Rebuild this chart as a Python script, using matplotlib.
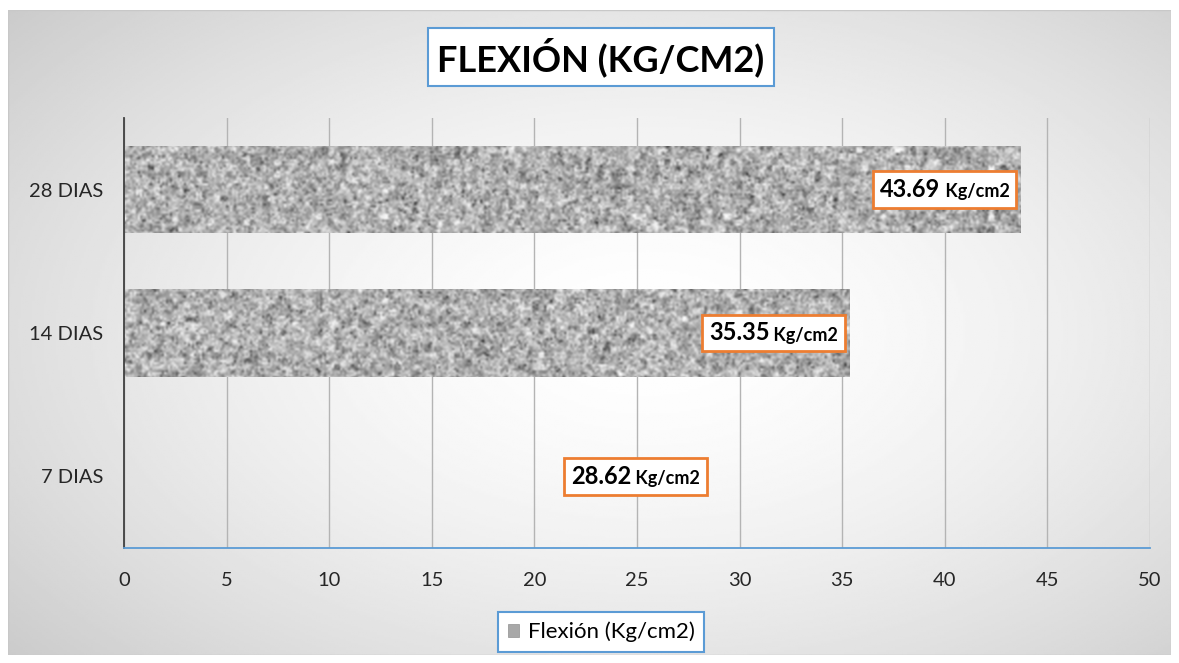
import numpy as np
import matplotlib.pyplot as plt
from matplotlib.offsetbox import TextArea, HPacker, AnnotationBbox
from matplotlib.patches import Rectangle

plt.rcParams['font.family'] = ['Lato', 'DejaVu Sans']

# datos
categorias = ['7 DIAS', '14 DIAS', '28 DIAS']
flexion = [28.62, 35.35, 43.69]
con_textura = [False, True, True]   # la barra de 7 dias sale sin relleno
ticks_x = list(range(0, 55, 5))

W, H = 1179, 663
fig = plt.figure(figsize=(W / 100, H / 100), dpi=100)

# fondo con degradado radial
bg = fig.add_axes([8 / W, 8 / H, (1171 - 8) / W, (655 - 10) / H])
yy, xx = np.mgrid[0:1:300j, 0:1:500j]
r = np.sqrt(((xx - 0.55) / 0.8) ** 2 + ((yy - 0.5) / 0.85) ** 2)
grad = 1 - 0.24 * np.clip(r, 0, 1) ** 1.6
bg.imshow(grad, cmap='gray', vmin=0, vmax=1, extent=[0, 1, 0, 1], aspect='auto')
bg.add_patch(Rectangle((0, 0), 1, 1, transform=bg.transAxes, fill=False,
                       ec='#c8c8c8', lw=1))
bg.set_axis_off()

# ejes principales
ax = fig.add_axes([124 / W, (H - 548) / H, (1150 - 124) / W, (548 - 118) / H])
ax.patch.set_visible(False)

ypos = np.arange(len(categorias))
bars = ax.barh(ypos, flexion, height=0.61, color='none', zorder=2)

# textura granulada tipo concreto
rng = np.random.default_rng(3)
ruido = rng.normal(0.7, 0.12, (215, 513))
ruido += 0.07 * np.kron(rng.normal(0, 1, (72, 171)), np.ones((3, 3)))[:215, :513]
ruido -= 0.3 * (rng.random((215, 513)) < 0.05)
for b, tex in zip(bars, con_textura):
    if not tex:
        continue
    im = ax.imshow(ruido, cmap='gray', vmin=0, vmax=1, extent=[0, 50, -0.5, 2.5],
                   aspect='auto', interpolation='bicubic', zorder=2)
    im.set_clip_path(b)

ax.set_xlim(0, 50)
ax.set_ylim(-0.5, 2.5)
ax.set_xticks(ticks_x)
ax.set_yticks(ypos)
ax.set_yticklabels(categorias)
ax.grid(axis='x', color='#b4b4b4', lw=1, zorder=1)
ax.set_axisbelow(True)
for s in ['top', 'right']:
    ax.spines[s].set_visible(False)
ax.spines['left'].set_color('#404040')
ax.spines['left'].set_linewidth(1.3)
ax.spines['bottom'].set_color('#5b9bd5')
ax.spines['bottom'].set_linewidth(1.3)
ax.tick_params(axis='both', length=0, labelsize=14.5, colors='#262626')
ax.tick_params(axis='y', pad=15)
ax.tick_params(axis='x', pad=17)

# etiquetas de valor
for i, v in enumerate(flexion):
    caja = HPacker(children=[
        TextArea('%.2f' % v, textprops=dict(fontsize=17, fontweight='bold')),
        TextArea(' Kg/cm2', textprops=dict(fontsize=13, fontweight='bold')),
    ], align='baseline', pad=0, sep=0)
    ab = AnnotationBbox(caja, (v, i), xybox=(-8, 0), xycoords='data',
                        boxcoords='offset points', box_alignment=(1, 0.5),
                        frameon=True, pad=0.5,
                        bboxprops=dict(edgecolor='#ed7d31', facecolor='white', lw=2))
    ab.set_zorder(5)
    ax.add_artist(ab)

# titulo
fig.text(601 / W, 1 - 57 / H, 'FLEXIÓN (KG/CM2)', fontsize=26, fontweight='bold',
         ha='center', va='center',
         bbox=dict(boxstyle='square,pad=0.25', fc='white', ec='#5b9bd5', lw=1.5))

# leyenda
h = Rectangle((0, 0), 1, 1, fc='#a8a8a8', ec='#909090', lw=0.5)
leg = fig.legend([h], ['Flexión (Kg/cm2)'], loc='center',
                 bbox_to_anchor=(601 / W, 1 - 632 / H), fontsize=16,
                 handlelength=0.5, handleheight=0.5, handletextpad=0.4,
                 fancybox=False, framealpha=1, borderpad=0.45, borderaxespad=0)
leg.get_frame().set_edgecolor('#5b9bd5')
leg.get_frame().set_linewidth(1.5)

fig.savefig('out.png', dpi=100)
